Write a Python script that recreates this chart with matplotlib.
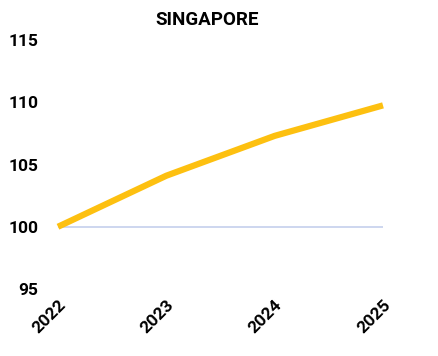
import matplotlib
matplotlib.use('Agg')
import matplotlib.pyplot as plt

# Index values (2022 = 100)
years = [2022, 2023, 2024, 2025]
index_values = [100.0, 104.1, 107.3, 109.75]
baseline = [100, 100, 100, 100]
y_ticks = [95, 100, 105, 110, 115]

plt.rcParams['font.family'] = ['Roboto', 'DejaVu Sans']

fig = plt.figure(figsize=(4.38, 3.56), dpi=100)
ax = fig.add_axes([0.1324, 0.1882, 0.742, 0.6994])

ax.plot(years, baseline, color='#C9D3EE', linewidth=1.3, zorder=1)
ax.plot(years, index_values, color='#FDC010', linewidth=4.5,
        solid_capstyle='butt', clip_on=False, zorder=2)

ax.set_xlim(2022, 2025)
ax.set_ylim(95, 115)
ax.set_xticks(years)
ax.set_xticklabels([str(y) for y in years], rotation=45, ha='right',
                   rotation_mode='anchor', fontsize=12.5, fontweight='bold')
ax.set_yticks(y_ticks)
ax.set_yticklabels([str(v) for v in y_ticks], fontsize=12.5, fontweight='bold')
ax.tick_params(axis='y', length=0, pad=14)
ax.tick_params(axis='x', length=0, pad=6)
for s in ax.spines.values():
    s.set_visible(False)

fig.text(0.473, 0.944, 'SINGAPORE', ha='center', va='center',
         fontsize=13.5, fontweight='bold')

fig.savefig('out.png', dpi=100)
